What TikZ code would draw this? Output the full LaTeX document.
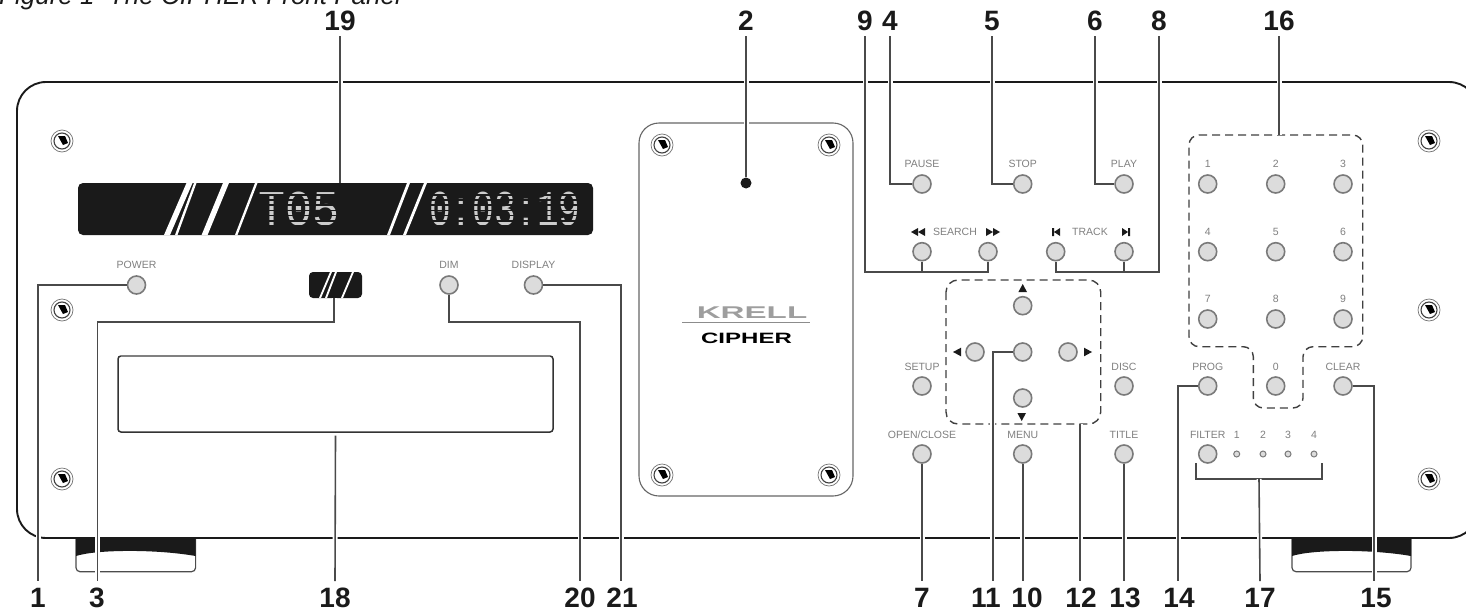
\documentclass[tikz,border=0pt]{standalone}
\usepackage{fontspec}
\setmainfont{Liberation Sans}
\newfontfamily\lcdfont{Liberation Mono}
\usetikzlibrary{backgrounds}
\definecolor{ink}{HTML}{1A1A1A}
\definecolor{leadc}{HTML}{4A4A4A}
\definecolor{btnfill}{HTML}{DCDCDC}
\definecolor{btnline}{HTML}{7A7A7A}
\definecolor{tinyc}{HTML}{808080}
\tikzset{
  panelline/.style={draw=ink,line width=1.9pt},
  plateline/.style={draw=black!60,line width=1.1pt},
  leader/.style={draw=leadc,line width=1.6pt,preaction={draw=white,line width=5pt}},
  dashzone/.style={draw=black!75,line width=1.4pt,dash pattern=on 8pt off 5pt},
  btn/.style={circle,draw=btnline,fill=btnfill,line width=1.6pt,minimum size=18pt,inner sep=0pt},
  ledsmall/.style={circle,draw=btnline,fill=btnfill,line width=1pt,minimum size=6pt,inner sep=0pt},
  tiny/.style={text=tinyc,font=\fontsize{10.5}{11}\selectfont,inner sep=0pt},
  num/.style={font=\fontsize{28}{28}\selectfont\bfseries,text=ink,text height=20pt,text depth=0pt,inner sep=3pt,outer sep=3pt},
  lcd/.style={text=white!80!black,inner sep=0pt},
  slashw/.style={fill=white,draw=none},
  tri/.style={fill=ink,draw=none},
  pics/screw/.style={code={
    \draw[black!55,line width=.7pt] (0,0) circle (11);
    \draw[black!75,line width=1.1pt] (0,0) circle (8);
    \fill[black] (-4,-5) -- (3,-5) -- (6,2) -- (1,4) -- cycle;
  }}
}
\begin{document}
\begin{tikzpicture}[x=1pt,y=-1pt]
\useasboundingbox (0,0) rectangle (1466,613);
\clip (0,0) rectangle (1466,613);

% title (cut by the page edge, as in the reference)
\node[anchor=base west,inner sep=0pt,font=\fontsize{26}{26}\selectfont\itshape,text=ink] (title) at (-1,5) {Figure 1\ \ The CIPHER Front Panel};

% numbers
\foreach \n/\x in {19/340,2/746,9/865,4/890,5/992,6/1095,8/1159,16/1279}
  \node[num] (n\n) at (\x,20) {\n};
\foreach \n/\x in {1/38,3/97,18/335,20/580,21/622,7/922,11/986,10/1027,12/1081,13/1125,14/1179,17/1260,15/1376}
  \node[num] (n\n) at (\x,597) {\n};

% buttons
\foreach \id/\x/\y in {power/136.5/285,dim/449/285,disp/533.5/285,
  pause/922/184,stop/1022.7/184,play/1124/184,
  srl/922/251.7,srr/988/251.7,trl/1055.7/251.7,trr/1124/251.7,
  up/1022.7/305.7,left/975/352,mid/1022.7/352,right/1068/352,down/1022.7/398,
  setup/922/386,disc/1124/386,open/922/454,menu/1022.7/454,ttl/1124/454,
  k1/1207.7/184,k2/1275.7/184,k3/1343/184,k4/1207.7/251.7,k5/1275.7/251.7,k6/1343/251.7,
  k7/1207.7/319,k8/1275.7/319,k9/1343/319,k0/1275.7/386,
  prog/1207.7/386,clear/1343/386,filter/1207.7/454}
  \node[btn] (\id) at (\x,\y) {};
\foreach \i/\x in {1/1236.7,2/1263,3/1288,4/1314} {
  \node[ledsmall] (f\i) at (\x,454) {};
  \node[tiny] (fl\i) at (\x,435) {\i};
}

% tiny captions
\foreach \id/\x/\y/\t in {lpower/136.5/265/POWER,ldim/449/265/DIM,ldisp/533.5/265/DISPLAY,
  lpause/922/164/PAUSE,lstop/1022.7/164/STOP,lplay/1124/164/PLAY,
  lsearch/955/232/SEARCH,ltrack/1090/232/TRACK,
  lsetup/922/367/SETUP,ldisc/1124/367/DISC,lmenu/1022.7/435/MENU,
  lttl/1124/435/TITLE,lprog/1207.7/367/PROG,lclear/1343/367/CLEAR,lfilter/1207.7/435/FILTER,
  lk1/1207.7/164/1,lk2/1275.7/164/2,lk3/1343/164/3,lk4/1207.7/232/4,lk5/1275.7/232/5,lk6/1343/232/6,
  lk7/1207.7/299/7,lk8/1275.7/299/8,lk9/1343/299/9,lk0/1275.7/367/0}
  \node[tiny] (\id) at (\x,\y) {\t};
\node[tiny] (lopen) at (922,435) {OPEN/CLOSE};

% LED, display, tray, indicator as nodes for connectors
\node[circle,fill=ink,minimum size=11pt,inner sep=0pt] (ir) at (746,183) {};
\node[draw=none,minimum width=515pt,minimum height=52pt,inner sep=0pt] (display) at (335.5,209) {};
\node[draw=none,minimum width=53pt,minimum height=26pt,inner sep=0pt] (indic) at (335.5,285) {};
\node[draw=none,minimum width=435pt,minimum height=76pt,inner sep=0pt,outer sep=4pt] (tray) at (335.5,393.7) {};

\coordinate (z1) at (1022,280);
\coordinate (z2) at (1280,135);
\coordinate (zb) at (1080,424);

\begin{scope}[on background layer]
  % feet
  \foreach \xa/\xb in {76/195.6,1292/1411} {
    \draw[line width=1.2pt,draw=black!70,rounded corners=4pt,fill=white] (\xa,538) -- (\xa,571.7) -- (\xb,571.7) -- (\xb,538);
    \fill[ink] (\xa,538) -- (\xa,556) .. controls ({\xa+20},549.5) and ({\xb-40},549) .. (\xb,556) -- (\xb,538) -- cycle;
  }
  % cabinet
  \draw[panelline,rounded corners=29pt,fill=white] (17,82) rectangle (1478,538);
  % plate
  \draw[plateline,rounded corners=20pt] (639,123) rectangle (853,496);
  \foreach \x/\y in {62/141,62/310,62/479,1429/141,1429/310,1429/479,662/145,829/145,662/475,829/475}
    \pic at (\x,\y) {screw};
  % logo
  \node[inner sep=0pt,font=\fontsize{17}{17}\selectfont\bfseries,text=black!38] (krell) at (752,313) {\scalebox{1.95}[1]{KRELL}};
  \draw[black!45,line width=1pt] (682,322.5) -- (810,322.5);
  \node[inner sep=0pt,font=\fontsize{15}{15}\selectfont\bfseries,text=black] (cipher) at (746.5,338) {\scalebox{1.6}[1]{CIPHER}};
  % tray
  \draw[draw=black!80,line width=1.5pt,rounded corners=3pt] (118,356) rectangle (553,432);
  \draw[draw=black!50,line width=1.8pt] (121,356) -- (550,356);
  % display window
  \fill[ink,rounded corners=5pt] (78,183) rectangle (593,235);
  \foreach \a/\b/\w in {164/186.5/6,175/194/2.5,201.6/223/6,235/255/2.5,387/407/3,403/424/3}
    \fill[slashw] (\a,235) -- ({\a+\w},235) -- ({\b+\w},183) -- (\b,183) -- cycle;
  \node[lcd,font=\fontsize{50}{50}\selectfont\lcdfont,anchor=center] (lcda) at (299.5,209) {\scalebox{.9}[1]{T05}};
  \node[lcd,font=\fontsize{50}{50}\selectfont\lcdfont,anchor=center] (lcdb) at (505,209) {\scalebox{.72}[1]{0:03:19}};
  % dot-matrix screen over the digits
  \foreach \y in {189.5,194.7,199.9,205.1,210.3,215.5,220.7,225.9} {
    \draw[ink,line width=1.6pt] (257,\y) -- (342,\y);
    \draw[ink,line width=1.6pt] (429,\y) -- (585,\y);
  }
  % indicator
  \fill[ink,rounded corners=4pt] (309,272) rectangle (362,298);
  \foreach \a/\b/\w in {319/330/2,325/335/2,341/352/2}
    \fill[slashw] (\a,298) -- ({\a+\w},298) -- ({\b+\w},272) -- (\b,272) -- cycle;
  % transport icons
  \foreach \x in {911,918}
    \fill[tri] (\x,232) -- (\x+7,228) -- (\x+7,236) -- cycle;
  \foreach \x in {986,993}
    \fill[tri] (\x+7,232) -- (\x,228) -- (\x,236) -- cycle;
  \fill[tri] (1052,228) rectangle (1054,236) (1054,232) -- (1060,228) -- (1060,236) -- cycle;
  \fill[tri] (1128,228) rectangle (1130,236) (1128,232) -- (1122,228) -- (1122,236) -- cycle;
  \fill[tri] (1022.7,284) -- (1027,292) -- (1018.4,292) -- cycle;
  \fill[tri] (1021.7,421) -- (1026,413) -- (1017.4,413) -- cycle;
  \fill[tri] (953,352) -- (961,347.7) -- (961,356.3) -- cycle;
  \fill[tri] (1092,352) -- (1084,347.7) -- (1084,356.3) -- cycle;
  % dashed zones
  \draw[dashzone,rounded corners=12pt] (946,280) rectangle (1100.7,424);
  \draw[dashzone,rounded corners=10pt] (1189,135) -- (1362.7,135) -- (1362.7,346.7) -- (1303,346.7)
     -- (1303,408) -- (1253.3,408) -- (1253.3,346.7) -- (1189,346.7) -- cycle;
\end{scope}

% connectors
\coordinate (e1) at (38,581);
\coordinate (e3) at (97.5,581);
\coordinate (j3) at (334,322);
\coordinate (j20) at (580,322);
\coordinate (e21) at (621,581);
\coordinate (j9) at (988,272);
\coordinate (j8) at (1159,272);
\coordinate (e11) at (992.7,581);
\coordinate (e14) at (1178,581);
\coordinate (e15) at (1374,581);
\coordinate (jf) at (1259,479);
\coordinate (fa) at (1195.7,463);
\coordinate (fb) at (1322,463);

\draw[leader] (n19.south) -- (display.north -| n19.south);
\draw[leader] (n2.south) -- (ir.north);
\draw[leader] (n4.south) |- (pause.west);
\draw[leader] (n5.south) |- (stop.west);
\draw[leader] (n6.south) |- (play.west);
\draw[leader] (n16.south) -- (z2 -| n16.south);
\draw[leader] (n9.south) |- (j9) -- (srr.south) (srl.south) -- (srl.south |- j9);
\draw[leader] (n8.south) -- (j8) -| (trl.south) (trr.south) -- (trr.south |- j8);
\draw[leader] (power.west) -| (e1);
\draw[leader] (indic.south -| j3) -- (j3) -| (e3);
\draw[leader] (dim.south) |- (j20) -- (n20.north);
\draw[leader] (disp.east) -| (e21);
\draw[leader] (tray.south) -- (n18.north);
\draw[leader] (open.south) -- (open.south |- n7.north);
\draw[leader] (mid.west) -| (e11);
\draw[leader] (menu.south) -- (menu.south |- n10.north);
\draw[leader] (zb) -- (zb |- n12.north);
\draw[leader] (ttl.south) -- (ttl.south |- n13.north);
\draw[leader] (prog.west) -| (e14);
\draw[leader] (clear.east) -| (e15);
\draw[draw=leadc,line width=1.6pt] (fa) |- (jf) -| (fb);
\draw[leader] (jf) -- (n17.north);
\end{tikzpicture}
\end{document}
